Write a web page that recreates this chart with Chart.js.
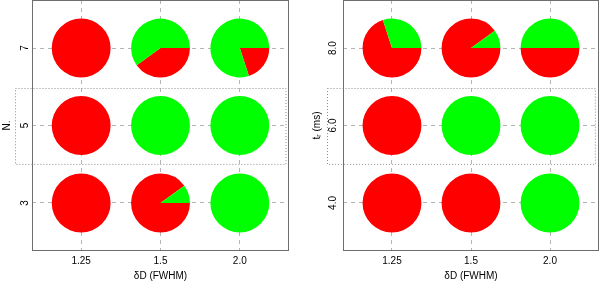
<!DOCTYPE html>
<html>
<head>
<meta charset="utf-8">
<script src="https://cdn.jsdelivr.net/npm/chart.js@4/dist/chart.umd.min.js"></script>
<style>
  body { margin: 0; background: #fff; }
  .wrap { display: flex; width: 600px; height: 282px; }
  canvas { display: block; }
</style>
</head>
<body>
<div class="wrap">
  <canvas id="leftChart" width="300" height="282"></canvas>
  <canvas id="rightChart" width="300" height="282"></canvas>
</div>
<script>
/*************************************************
 * Pie grids: fraction of red per cell           *
 *************************************************/
const xLabels = ['1.25', '1.5', '2.0'];
const nLabels = ['3', '5', '7'];
const tLabels = ['4.0', '6.0', '8.0'];

// red share of each pie, rows from bottom to top, columns as xLabels
const redByN = [
    [1, 0.9, 0],
    [1, 0, 0],
    [1, 0.4, 0.2]
];
const redByT = [
    [1, 1, 0],
    [1, 0, 0],
    [0.7, 0.9, 0.5]
];

const FONT = 'Liberation Sans, Arial, sans-serif';

function cellPoints(rows) {
    const pts = [];
    rows.forEach((row, i) => {
        row.forEach((red, j) => {
            pts.push({x: j + 1, y: i + 1, red: red});
        });
    });
    return pts;
}

// draws a pie on each point, red clockwise from east, green the rest
const piePlugin = {
    id: 'pieCells',
    beforeDatasetsDraw(chart) {
        const ctx = chart.ctx;
        const yScale = chart.scales.y;
        const r = 0.38 * Math.abs(yScale.getPixelForValue(1) - yScale.getPixelForValue(2));
        const meta = chart.getDatasetMeta(0);
        meta.data.forEach((el, i) => {
            const red = chart.data.datasets[0].data[i].red;
            const end = Math.PI * 2 * red;
            ctx.save();
            if (red > 0) {
                ctx.beginPath();
                ctx.moveTo(el.x, el.y);
                ctx.arc(el.x, el.y, r, 0, end);
                ctx.closePath();
                ctx.fillStyle = '#ff0000';
                ctx.fill();
            }
            if (red < 1) {
                ctx.beginPath();
                ctx.moveTo(el.x, el.y);
                ctx.arc(el.x, el.y, r, end, Math.PI * 2);
                ctx.closePath();
                ctx.fillStyle = '#00ff00';
                ctx.fill();
            }
            ctx.restore();
        });
    },
    afterDraw(chart, args, opts) {
        const ctx = chart.ctx;
        const {left, right, top, bottom} = chart.chartArea;
        const x = chart.scales.x;
        const y = chart.scales.y;

        // frame
        ctx.save();
        ctx.strokeStyle = '#6e6e6e';
        ctx.lineWidth = 1;
        ctx.strokeRect(left + 0.5, top + 0.5, right - left - 1, bottom - top - 1);

        // dotted box round the middle row
        ctx.strokeStyle = '#8c8c8c';
        ctx.setLineDash([1, 2]);
        const bx0 = x.getPixelForValue(opts.boxX[0]);
        const bx1 = x.getPixelForValue(opts.boxX[1]);
        const by0 = y.getPixelForValue(opts.boxY[1]);
        const by1 = y.getPixelForValue(opts.boxY[0]);
        ctx.strokeRect(Math.round(bx0) + 0.5, Math.round(by0) + 0.5, bx1 - bx0, by1 - by0);
        ctx.setLineDash([]);

        // rotated y tick labels
        ctx.fillStyle = '#000';
        ctx.font = '10px ' + FONT;
        ctx.textAlign = 'center';
        ctx.textBaseline = 'middle';
        y.ticks.forEach((t, i) => {
            ctx.save();
            ctx.translate(opts.tickX, y.getPixelForValue(t.value));
            ctx.rotate(-Math.PI / 2);
            ctx.fillText(opts.labels[i], 0, 0);
            ctx.restore();
        });
        ctx.restore();
    }
};

function makeChart(canvasId, rows, yTickLabels, yTitle, opts) {
    return new Chart(document.getElementById(canvasId).getContext('2d'), {
        type: 'scatter',
        data: {
            datasets: [{
                data: cellPoints(rows),
                pointRadius: 0,
                pointHoverRadius: 0
            }]
        },
        options: {
            responsive: false,
            animation: false,
            events: [],
            layout: {
                padding: {left: 0, top: 0, bottom: 0, right: opts.padRight}
            },
            plugins: {
                legend: {display: false},
                tooltip: {enabled: false},
                pieCells: {
                    boxX: opts.boxX,
                    boxY: [1.51, 2.49],
                    tickX: opts.tickX,
                    labels: yTickLabels
                }
            },
            scales: {
                x: {
                    type: 'linear',
                    min: 0.38,
                    max: 3.62,
                    afterBuildTicks: s => {
                        s.ticks = xLabels.map((_, i) => ({value: i + 1}));
                    },
                    afterFit: s => {
                        s.height = 31;
                    },
                    ticks: {
                        callback: v => xLabels[v - 1],
                        color: '#000',
                        padding: 4,
                        maxRotation: 0,
                        font: {size: 10, family: FONT}
                    },
                    grid: {color: '#b4b4b4', drawTicks: false},
                    border: {display: false, dash: [4, 4]},
                    title: {
                        display: true,
                        text: 'δD (FWHM)',
                        color: '#000',
                        padding: {top: 0, bottom: 0},
                        font: {size: 10, family: FONT}
                    }
                },
                y: {
                    type: 'linear',
                    min: 0.38,
                    max: 3.62,
                    afterBuildTicks: s => {
                        s.ticks = yTickLabels.map((_, i) => ({value: i + 1}));
                    },
                    afterFit: s => {
                        s.width = opts.axisWidth;
                    },
                    ticks: {display: false},
                    grid: {color: '#b4b4b4', drawTicks: false},
                    border: {display: false, dash: [4, 4]},
                    title: {
                        display: true,
                        text: yTitle,
                        color: '#000',
                        padding: {top: opts.titlePad, bottom: 0},
                        font: {size: 10, family: FONT}
                    }
                }
            }
        },
        plugins: [piePlugin]
    });
}

const leftChart = makeChart('leftChart', redByN, nLabels, 'N.', {
    padRight: 11, axisWidth: 32, titlePad: 1, tickX: 25, boxX: [0.16, 3.57]
});
const rightChart = makeChart('rightChart', redByT, tLabels, 'tᵣ (ms)', {
    padRight: 1, axisWidth: 43, titlePad: 11, tickX: 33, boxX: [0.18, 3.57]
});
</script>
</body>
</html>
